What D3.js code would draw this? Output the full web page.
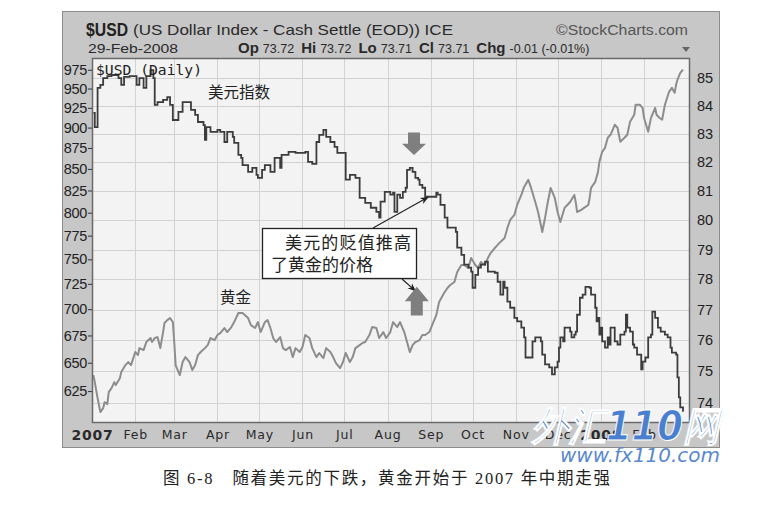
<!DOCTYPE html>
<html><head><meta charset="utf-8">
<script src="https://cdn.jsdelivr.net/npm/d3@7"></script>
<style>body{margin:0;background:#fff;} svg{display:block}</style>
</head><body><svg id="c" width="775" height="512"></svg>
<script>
// ---------- DATA ----------
// US Dollar Index daily close (right axis)
const usdSeries = [
["2007-01-02",83.74],["2007-01-03",83.24],["2007-01-05",84.64],["2007-01-07",84.75],["2007-01-09",85.00],["2007-01-12",85.07],["2007-01-15",85.11],["2007-01-20",85.00],["2007-01-22",84.75],["2007-01-24",85.04],["2007-01-28",85.07],
["2007-02-02",84.75],["2007-02-04",85.00],["2007-02-07",84.64],["2007-02-09",85.07],["2007-02-12",85.29],["2007-02-14",85.00],["2007-02-15",84.03],["2007-02-17",84.13],["2007-02-21",84.21],["2007-02-24",84.31],["2007-02-26",84.03],["2007-02-28",83.49],
["2007-03-04",83.78],["2007-03-07",84.13],["2007-03-11",84.13],["2007-03-13",83.85],["2007-03-16",83.67],["2007-03-18",83.42],["2007-03-22",83.31],["2007-03-23",82.79],["2007-03-24",83.24],["2007-03-27",83.07],
["2007-04-01",83.14],["2007-04-03",83.07],["2007-04-06",82.71],["2007-04-08",83.07],["2007-04-12",82.89],["2007-04-13",82.68],["2007-04-16",82.26],["2007-04-18",82.15],["2007-04-19",81.90],["2007-04-23",81.66],["2007-04-26",81.80],["2007-04-29",81.56],["2007-04-30",81.45],
["2007-05-03",81.73],["2007-05-05",81.90],["2007-05-09",81.66],["2007-05-12",82.15],["2007-05-16",81.80],["2007-05-17",82.26],["2007-05-22",82.36],["2007-05-27",82.33],
["2007-06-03",82.36],["2007-06-05",82.01],["2007-06-08",81.94],["2007-06-11",82.71],["2007-06-13",82.96],["2007-06-16",83.14],["2007-06-18",82.89],["2007-06-21",82.71],["2007-06-24",82.54],["2007-06-26",82.33],
["2007-07-01",82.33],["2007-07-02",81.39],["2007-07-05",81.56],["2007-07-09",81.45],["2007-07-12",80.76],["2007-07-16",80.59],["2007-07-20",80.42],["2007-07-24",80.28],["2007-07-26",80.08],["2007-07-27",80.63],["2007-07-30",80.97],
["2007-08-03",80.87],["2007-08-05",80.94],["2007-08-06",80.28],["2007-08-08",80.87],["2007-08-10",80.76],["2007-08-12",80.97],["2007-08-14",81.11],["2007-08-15",81.73],["2007-08-17",81.80],["2007-08-19",81.66],["2007-08-21",81.45],["2007-08-23",81.39],["2007-08-24",81.21],["2007-08-26",81.11],["2007-08-28",80.80],
["2007-09-01",80.80],["2007-09-05",80.94],["2007-09-06",80.87],["2007-09-08",80.52],["2007-09-11",80.08],["2007-09-13",79.74],["2007-09-17",79.74],["2007-09-19",79.60],["2007-09-20",79.06],["2007-09-23",78.82],["2007-09-25",78.49],["2007-09-28",78.39],["2007-09-30",78.26],
["2007-10-01",77.72],["2007-10-03",78.15],["2007-10-05",78.39],["2007-10-07",78.49],["2007-10-10",78.59],["2007-10-12",78.26],["2007-10-17",78.22],["2007-10-19",77.92],["2007-10-21",77.49],["2007-10-23",77.92],["2007-10-24",77.72],["2007-10-26",77.26],["2007-10-28",77.06],["2007-10-31",76.73],
["2007-11-02",76.61],["2007-11-05",76.41],["2007-11-07",76.09],["2007-11-08",75.44],["2007-11-12",75.44],["2007-11-13",75.96],["2007-11-15",76.09],["2007-11-19",75.96],["2007-11-20",75.53],["2007-11-22",75.22],["2007-11-25",75.12],["2007-11-27",74.90],["2007-11-29",75.12],
["2007-12-01",75.31],["2007-12-02",75.76],["2007-12-03",76.09],["2007-12-05",75.96],["2007-12-06",76.41],["2007-12-10",76.28],["2007-12-11",76.09],["2007-12-13",76.18],["2007-12-14",76.28],["2007-12-15",76.83],["2007-12-17",77.39],["2007-12-19",77.49],["2007-12-21",77.75],["2007-12-24",77.72],["2007-12-25",77.49],["2007-12-28",77.06],["2007-12-29",76.61],["2007-12-30",76.73],["2007-12-31",76.18],
["2008-01-01",76.41],["2008-01-02",75.96],["2008-01-04",75.76],["2008-01-06",76.09],["2008-01-07",75.86],["2008-01-08",76.41],["2008-01-11",75.96],["2008-01-13",75.86],["2008-01-15",76.18],["2008-01-18",76.28],["2008-01-19",76.83],["2008-01-20",76.41],["2008-01-22",76.28],["2008-01-24",75.86],["2008-01-25",75.76],["2008-01-27",75.53],["2008-01-30",75.06],["2008-01-31",75.31],
["2008-02-02",75.44],["2008-02-04",76.09],["2008-02-06",76.18],["2008-02-07",76.93],["2008-02-09",76.73],["2008-02-11",76.41],["2008-02-13",76.28],["2008-02-16",76.18],["2008-02-18",76.09],["2008-02-20",75.76],["2008-02-21",75.60],["2008-02-24",75.53],["2008-02-25",74.80],["2008-02-26",74.17],["2008-02-27",73.85],["2008-02-29",73.71]
];
// Gold price (left axis)
const goldSeries = [
["2007-01-02",639.0],["2007-01-03",632.8],["2007-01-05",619.0],["2007-01-07",607.1],["2007-01-09",610.4],["2007-01-10",615.5],["2007-01-12",613.8],["2007-01-13",624.1],["2007-01-15",627.6],["2007-01-17",632.8],["2007-01-18",630.2],["2007-01-21",636.3],["2007-01-22",641.7],["2007-01-25",647.9],["2007-01-27",650.6],["2007-01-29",647.9],
["2007-02-01",659.7],["2007-02-03",656.9],["2007-02-04",663.3],["2007-02-07",661.5],["2007-02-09",668.9],["2007-02-12",672.6],["2007-02-13",668.9],["2007-02-15",672.6],["2007-02-17",673.5],["2007-02-19",663.3],["2007-02-21",678.2],["2007-02-22",686.7],["2007-02-24",689.5],["2007-02-26",691.5],["2007-02-28",687.6],
["2007-03-01",668.9],["2007-03-02",647.9],["2007-03-05",639.0],["2007-03-07",650.6],["2007-03-09",655.1],["2007-03-12",650.6],["2007-03-14",643.4],["2007-03-16",647.9],["2007-03-18",656.9],["2007-03-20",659.7],["2007-03-23",663.3],["2007-03-25",666.1],["2007-03-27",672.6],["2007-03-30",670.7],
["2007-04-01",675.4],["2007-04-03",677.2],["2007-04-06",682.0],["2007-04-08",678.2],["2007-04-11",682.9],["2007-04-13",687.6],["2007-04-16",696.3],["2007-04-19",696.3],["2007-04-23",691.5],["2007-04-25",684.8],["2007-04-28",682.0],["2007-04-30",687.6],
["2007-05-02",678.2],["2007-05-05",687.6],["2007-05-07",689.5],["2007-05-09",682.0],["2007-05-11",672.6],["2007-05-13",668.9],["2007-05-16",673.5],["2007-05-18",663.3],["2007-05-20",661.5],["2007-05-23",664.3],["2007-05-25",655.1],["2007-05-27",663.3],["2007-05-30",659.7],
["2007-06-01",664.3],["2007-06-03",675.4],["2007-06-06",672.6],["2007-06-08",663.3],["2007-06-11",655.1],["2007-06-13",658.8],["2007-06-16",654.2],["2007-06-18",663.3],["2007-06-21",659.7],["2007-06-23",655.1],["2007-06-25",649.7],["2007-06-28",645.2],["2007-06-30",650.6],
["2007-07-02",658.8],["2007-07-05",650.6],["2007-07-07",655.1],["2007-07-09",663.3],["2007-07-12",666.1],["2007-07-14",668.0],["2007-07-16",668.9],["2007-07-19",675.4],["2007-07-21",682.9],["2007-07-24",682.0],["2007-07-26",672.6],["2007-07-29",678.2],["2007-07-31",672.6],
["2007-08-03",678.2],["2007-08-05",687.6],["2007-08-08",682.9],["2007-08-10",687.6],["2007-08-13",678.2],["2007-08-17",659.7],["2007-08-19",666.1],["2007-08-21",668.9],["2007-08-24",670.7],["2007-08-26",675.4],["2007-08-28",675.4],["2007-08-31",678.2],
["2007-09-02",684.8],["2007-09-05",694.3],["2007-09-07",707.0],["2007-09-11",716.8],["2007-09-13",720.8],["2007-09-15",723.8],["2007-09-18",726.8],["2007-09-20",737.0],["2007-09-23",744.2],["2007-09-25",744.2],["2007-09-28",741.1],["2007-09-30",751.4],
["2007-10-03",744.2],["2007-10-05",741.1],["2007-10-07",747.3],["2007-10-10",744.2],["2007-10-12",751.4],["2007-10-14",756.6],["2007-10-17",761.9],["2007-10-19",765.1],["2007-10-21",768.3],["2007-10-24",772.5],["2007-10-26",783.3],["2007-10-28",792.0],["2007-10-31",797.5],
["2007-11-02",808.6],["2007-11-05",819.9],["2007-11-07",829.1],["2007-11-10",837.2],["2007-11-12",827.9],["2007-11-15",812.0],["2007-11-17",800.8],["2007-11-19",786.6],["2007-11-20",779.0],["2007-11-22",794.2],["2007-11-24",812.0],["2007-11-26",827.9],["2007-11-29",816.5],
["2007-12-01",800.8],["2007-12-03",789.8],["2007-12-06",805.3],["2007-12-08",808.6],["2007-12-10",812.0],["2007-12-13",819.9],["2007-12-14",812.0],["2007-12-15",800.8],["2007-12-18",803.1],["2007-12-20",805.3],["2007-12-23",808.6],["2007-12-24",816.5],["2007-12-25",827.9],["2007-12-28",834.8],["2007-12-30",846.5],["2007-12-31",858.3],
["2008-01-02",870.3],["2008-01-04",875.1],["2008-01-06",887.4],["2008-01-08",891.1],["2008-01-11",903.5],["2008-01-13",899.8],["2008-01-15",882.5],["2008-01-18",887.4],["2008-01-20",891.1],["2008-01-22",907.3],["2008-01-25",916.1],["2008-01-26",928.9],["2008-01-29",928.9],["2008-01-31",925.0],
["2008-02-01",912.3],["2008-02-04",894.8],["2008-02-06",912.3],["2008-02-09",925.0],["2008-02-10",916.1],["2008-02-12",912.3],["2008-02-14",909.8],["2008-02-16",928.9],["2008-02-19",945.7],["2008-02-21",951.0],["2008-02-23",944.4],["2008-02-24",954.9],["2008-02-25",961.6],["2008-02-27",970.9],["2008-02-29",975.0]
];
const monthTickDates = ["2007-01-01","2007-02-01","2007-03-01","2007-04-01","2007-05-01","2007-06-01","2007-07-01","2007-08-01","2007-09-01","2007-10-01","2007-11-01","2007-12-01","2008-01-01","2008-02-01"];
const monthTickLabels = ["2007","Feb","Mar","Apr","May","Jun","Jul","Aug","Sep","Oct","Nov","Dec","2008","Feb"];
const goldTicks = [625,650,675,700,725,750,775,800,825,850,875,900,925,950,975];
const usdTicks = [74,75,76,77,78,79,80,81,82,83,84,85];
const titleSymbol = "$USD";
const titleName = "(US Dollar Index - Cash Settle (EOD)) ICE";
const lastDate = "29-Feb-2008";
const quoteLabels = ["Op","Hi","Lo","Cl","Chg"];
const quoteValues = ["73.72","73.72","73.71","73.71","-0.01 (-0.01%)"];

// ---------- LAYOUT ----------
const svg = d3.select("#c");
const P = {l:92, r:690, t:58, b:423};
const parse = d3.timeParse("%Y-%m-%d");
const x = d3.scaleTime().domain([parse("2007-01-01"), parse("2008-03-05")]).range([P.l, P.r]);
const yUsd = d3.scaleLog().domain([73.36, 85.73]).range([P.b, P.t]);
const yGold = d3.scaleLog().domain([598, 991]).range([P.b, P.t]);

svg.append("rect").attr("width",775).attr("height",512).attr("fill","#fff");
// outer frame
svg.append("rect").attr("x",62.5).attr("y",11.5).attr("width",657).attr("height",436)
  .attr("fill","#c7c7c7").attr("stroke","#8c8c8c");
// plot background
svg.append("rect").attr("x",P.l).attr("y",P.t).attr("width",P.r-P.l).attr("height",P.b-P.t).attr("fill","#f3f3f3");

// grid
const grid = svg.append("g").attr("stroke","#d2d2d2").attr("stroke-width",1);
grid.selectAll("line.v").data(monthTickDates.slice(1).map(parse)).join("line")
  .attr("x1",d=>Math.round(x(d))+0.5).attr("x2",d=>Math.round(x(d))+0.5).attr("y1",P.t).attr("y2",P.b);
grid.selectAll("line.h").data(usdTicks).join("line")
  .attr("x1",P.l).attr("x2",P.r).attr("y1",d=>Math.round(yUsd(d))+0.5).attr("y2",d=>Math.round(yUsd(d))+0.5);

// clip
svg.append("clipPath").attr("id","clip").append("rect").attr("x",P.l).attr("y",P.t).attr("width",P.r-P.l).attr("height",P.b-P.t);

const goldLine = d3.line().x(d=>x(parse(d[0]))).y(d=>yGold(d[1])).curve(d3.curveLinear);
const usdLine = d3.line().x(d=>x(parse(d[0]))).y(d=>yUsd(d[1])).curve(d3.curveStepAfter);
svg.append("path").datum(goldSeries).attr("clip-path","url(#clip)").attr("d",goldLine)
  .attr("fill","none").attr("stroke","#8d8d8d").attr("stroke-width",2).attr("stroke-linejoin","round");
svg.append("path").datum(usdSeries).attr("clip-path","url(#clip)").attr("d",usdLine)
  .attr("fill","none").attr("stroke","#3c3c3c").attr("stroke-width",1.8);

// plot border
svg.append("rect").attr("x",P.l+0.5).attr("y",P.t+0.5).attr("width",P.r-P.l-1).attr("height",P.b-P.t-1)
  .attr("fill","none").attr("stroke","#6a6a6a").attr("stroke-width",1.5);

// axes
const axFont = "'Liberation Sans', Arial, sans-serif";
const left = svg.append("g").attr("transform",`translate(${P.l},0)`)
  .call(d3.axisLeft(yGold).tickValues(goldTicks).tickSize(4).tickPadding(1).tickFormat(d3.format("d")));
left.select(".domain").remove();
left.selectAll("line").attr("stroke","#333");
left.selectAll("text").attr("font-family",axFont).attr("font-size",14.5).attr("fill","#222").attr("letter-spacing",-0.3);

const right = svg.append("g").attr("transform",`translate(${P.r},0)`)
  .call(d3.axisRight(yUsd).tickValues(usdTicks).tickSize(0).tickPadding(7).tickFormat(d3.format("d")));
right.select(".domain").remove();
right.selectAll("text").attr("font-family",axFont).attr("font-size",14.5).attr("fill","#222");

const bottom = svg.append("g").attr("transform",`translate(0,${P.b})`)
  .call(d3.axisBottom(x).tickValues(monthTickDates.map(parse)).tickSize(0).tickPadding(7)
    .tickFormat((d,i)=>monthTickLabels[i]));
bottom.select(".domain").remove();
bottom.selectAll("text").attr("font-family","'DejaVu Sans', Verdana, sans-serif").attr("font-size",12.5)
  .attr("fill","#2a2a2a").attr("letter-spacing",0.8)
  .attr("font-weight",(d,i)=>/^\d{4}$/.test(monthTickLabels[i])?"bold":"normal")
  .attr("font-size",(d,i)=>/^\d{4}$/.test(monthTickLabels[i])?14:12.5);

// header
const hf = "'Liberation Sans', Arial, sans-serif";
svg.append("text").attr("x",86).attr("y",36).attr("font-family",hf).attr("font-weight","bold").attr("font-size",19)
  .attr("fill","#222").attr("textLength",42).attr("lengthAdjust","spacingAndGlyphs").text(titleSymbol);
svg.append("text").attr("x",133).attr("y",35).attr("font-family",hf).attr("font-size",15)
  .attr("fill","#2a2a2a").attr("textLength",320).attr("lengthAdjust","spacingAndGlyphs").text(titleName);
svg.append("text").attr("x",556).attr("y",35).attr("font-family",hf).attr("font-size",14)
  .attr("fill","#555").attr("textLength",132).attr("lengthAdjust","spacingAndGlyphs").text("\u00A9StockCharts.com");
svg.append("text").attr("x",88).attr("y",53).attr("font-family",hf).attr("font-size",12.5)
  .attr("fill","#2a2a2a").attr("textLength",90).attr("lengthAdjust","spacingAndGlyphs").text(lastDate);
const q = svg.append("text").attr("x",238).attr("y",53).attr("font-family",hf).attr("fill","#2a2a2a");
quoteLabels.forEach((lab,i)=>{
  q.append("tspan").attr("font-weight","bold").attr("font-size",15).attr("dx",i?7:0).text(lab);
  q.append("tspan").attr("font-size",12.5).attr("dx",4).text(quoteValues[i]);
});
svg.append("path").attr("d","M682,47 l8,0 l-4,5 z").attr("fill","#666");

// in-plot label
svg.append("text").attr("x",96).attr("y",75).attr("font-family","'DejaVu Sans Mono', monospace").attr("font-size",14)
  .attr("fill","#222").attr("textLength",106).attr("lengthAdjust","spacingAndGlyphs").text("$USD (Daily)");

// Chinese annotations
const cjk = "'Noto Sans CJK SC', sans-serif";
svg.append("text").attr("x",208).attr("y",98).attr("font-family",cjk).attr("font-size",15.5).attr("fill","#222").text("美元指数");
svg.append("text").attr("x",220).attr("y",303).attr("font-family",cjk).attr("font-size",15.5).attr("fill","#222").text("黄金");
svg.append("rect").attr("x",262.5).attr("y",228.5).attr("width",154).attr("height",50).attr("fill","#fff").attr("stroke","#222").attr("stroke-width",1.3);
svg.append("text").attr("x",285).attr("y",249).attr("font-family",cjk).attr("font-size",17).attr("fill","#222")
  .attr("textLength",126).text("美元的贬值推高");
svg.append("text").attr("x",271).attr("y",271).attr("font-family",cjk).attr("font-size",17).attr("fill","#222")
  .attr("textLength",102).text("了黄金的价格");

// arrow markers
const defs = svg.append("defs");
defs.append("marker").attr("id","ah").attr("viewBox","0 0 10 10").attr("refX",9).attr("refY",5)
  .attr("markerWidth",7).attr("markerHeight",7).attr("orient","auto")
  .append("path").attr("d","M0,1 L10,5 L0,9 L3,5 z").attr("fill","#222");
// pointer to USD after the August peak
const usdTip = [parse("2007-08-30"), 80.78];
svg.append("line").attr("x1",373).attr("y1",228).attr("x2",x(usdTip[0])).attr("y2",yUsd(usdTip[1]))
  .attr("stroke","#222").attr("stroke-width",1.2).attr("marker-end","url(#ah)");
// pointer to gold
const goldTip = [parse("2007-08-21"), 718];
svg.append("line").attr("x1",402).attr("y1",279).attr("x2",x(goldTip[0])).attr("y2",yGold(goldTip[1]))
  .attr("stroke","#222").attr("stroke-width",1.2).attr("marker-end","url(#ah)");

// gray block arrows
function blockArrow(cx, yTop, yBot, down){
  const sw=6, hw=12, h=yBot-yTop, head=h*0.5;
  let d;
  if(down) d=`M${cx-sw},${yTop} L${cx+sw},${yTop} L${cx+sw},${yBot-head} L${cx+hw},${yBot-head} L${cx},${yBot} L${cx-hw},${yBot-head} L${cx-sw},${yBot-head} Z`;
  else d=`M${cx-sw},${yBot} L${cx+sw},${yBot} L${cx+sw},${yTop+head} L${cx+hw},${yTop+head} L${cx},${yTop} L${cx-hw},${yTop+head} L${cx-sw},${yTop+head} Z`;
  svg.append("path").attr("d",d).attr("fill","#7f7f7f");
}
const downAt = parse("2007-08-20"), upAt = parse("2007-08-22");
blockArrow(x(downAt), yUsd(83.05), yUsd(82.25), true);
blockArrow(x(upAt), yGold(722), yGold(694), false);

// watermark
svg.append("text").attr("x",532).attr("y",440).attr("font-family","'DejaVu Sans', sans-serif").attr("font-weight","bold")
  .attr("font-style","italic").attr("font-size",40).attr("fill","#4a7fd0").attr("stroke","#fff").attr("stroke-width",1)
  .attr("textLength",188).attr("lengthAdjust","spacingAndGlyphs").text("外汇110网");
svg.append("text").attr("x",560).attr("y",462).attr("font-family","'DejaVu Sans', sans-serif")
  .attr("font-style","italic").attr("font-size",20).attr("fill","#5a88d0")
  .attr("textLength",160).attr("lengthAdjust","spacingAndGlyphs").text("www.fx110.com");

// caption
svg.append("text").attr("x",163).attr("y",484).attr("font-family","'Liberation Serif', 'Noto Sans CJK SC', serif")
  .attr("font-size",16.5).attr("fill","#222").attr("textLength",447).text("图 6-8\u3000随着美元的下跌，黄金开始于 2007 年中期走强");
</script></body></html>
